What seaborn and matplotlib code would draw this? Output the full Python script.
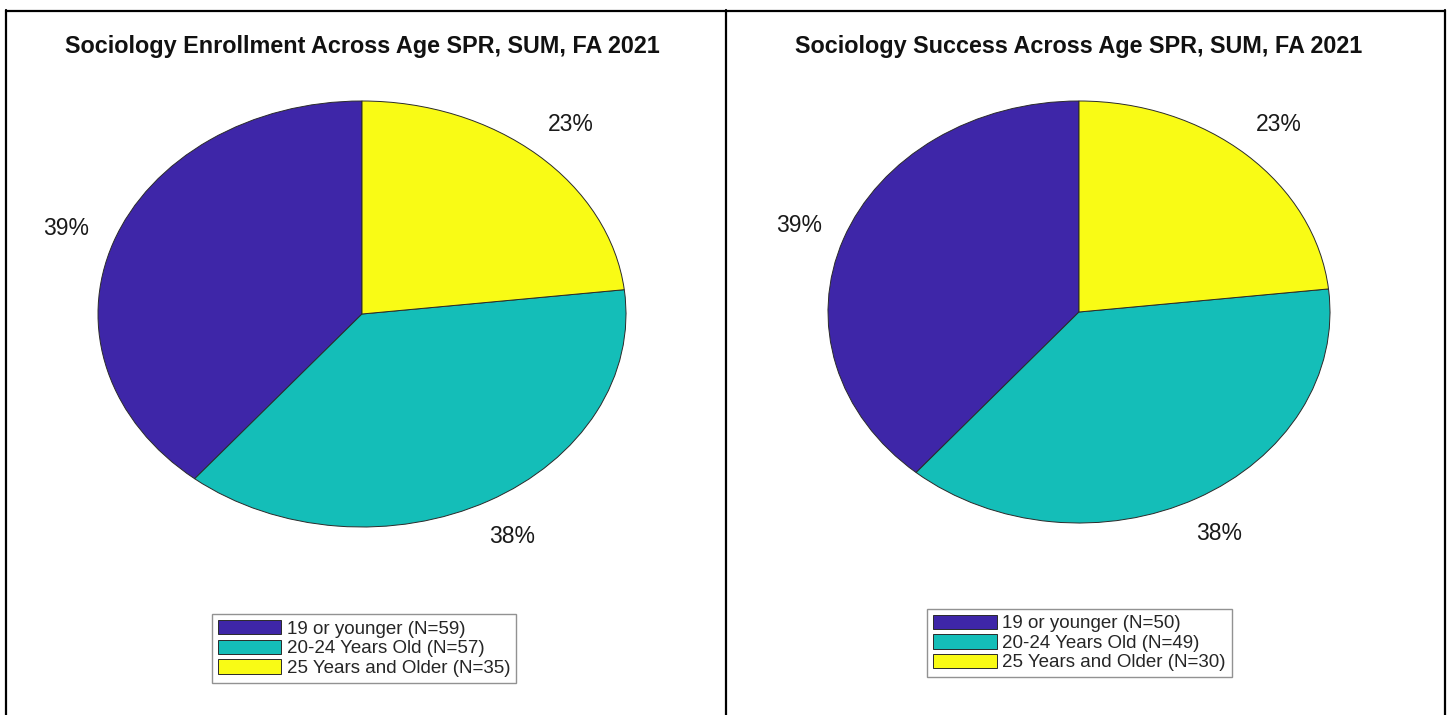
import matplotlib
matplotlib.use("Agg")
import matplotlib.pyplot as plt
import seaborn as sns
from matplotlib.lines import Line2D

sns.set_theme(style="white")
plt.rcParams["font.family"] = ["Liberation Sans", "DejaVu Sans"]

# data
groups = ["19 or younger", "20-24 Years Old", "25 Years and Older"]
enroll_n = [59, 57, 35]
success_n = [50, 49, 30]
titles = ["Sociology Enrollment Across Age SPR, SUM, FA 2021",
          "Sociology Success Across Age SPR, SUM, FA 2021"]
colors = ["#3E26A8", "#14BEB8", "#F9FB15"]

W, H = 1449, 715
fig = plt.figure(figsize=(W / 100, H / 100), dpi=100)


def px_axes(x0, x1, y0, y1):
    return fig.add_axes([x0 / W, 1 - y1 / H, (x1 - x0) / W, (y1 - y0) / H])


panels = [
    (enroll_n, titles[0], (98, 626, 101, 527), (364, 648.5), 362),
    (success_n, titles[1], (828, 1330, 101, 523), (1079.5, 643), 1079),
]

for vals, title, box, leg_c, tx in panels:
    ax = px_axes(*box)
    wedges, _, autotexts = ax.pie(
        vals, colors=colors, startangle=90, counterclock=True,
        autopct=lambda p: f"{p:.0f}%", pctdistance=1.19,
        wedgeprops=dict(edgecolor="#2a2a2a", linewidth=0.7),
        textprops=dict(fontsize=16.5, color="#1a1a1a"))
    ax.set_aspect("auto")
    ax.set_xlim(-1, 1)
    ax.set_ylim(-1, 1)
    ax.axis("off")
    fig.text(tx / W, 1 - 46 / H, title, ha="center", va="center",
             fontsize=16.8, fontweight="bold", color="#111111")
    labels = [f"{g} (N={n})" for g, n in zip(groups, vals)]
    leg = fig.legend(wedges, labels, loc="center",
                     bbox_to_anchor=(leg_c[0] / W, 1 - leg_c[1] / H),
                     fontsize=13.5, frameon=True, fancybox=False,
                     edgecolor="#777777", handlelength=3.4, handleheight=0.8,
                     handletextpad=0.3, labelspacing=0.1, borderpad=0.3)
    leg.get_frame().set_linewidth(1.0)

# table-cell borders
lw = 1.6
fig.add_artist(Line2D([6 / W, 1445 / W], [1 - 10.5 / H] * 2, color="black", lw=lw))
for xv in [6.5, 725.5, 1444.5]:
    fig.add_artist(Line2D([xv / W] * 2, [0, 1 - 10 / H], color="black", lw=lw))

fig.savefig("out.png", dpi=100)
